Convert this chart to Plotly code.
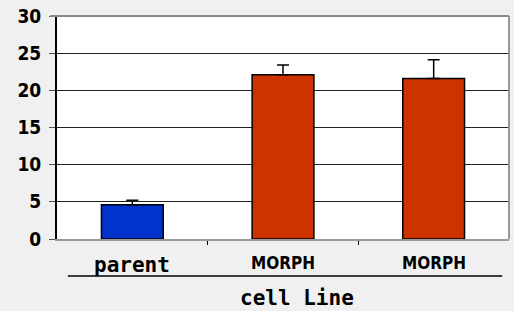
import plotly.graph_objects as go

categories = ["parent", "MORPH", "MORPH"]
values = [4.6, 22.1, 21.6]
errors = [0.6, 1.3, 2.5]
colors = ["#0033CC", "#CC3300", "#CC3300"]
y_ticks = [0, 5, 10, 15, 20, 25, 30]
x_title = "cell Line"

x_pos = list(range(len(categories)))
narrow = "DejaVu Sans Condensed, Liberation Sans"
label_fonts = [
    dict(family="DejaVu Sans Mono", size=21, color="black"),
    dict(family=narrow, size=17, color="black"),
    dict(family=narrow, size=17, color="black"),
]

fig = go.Figure()
fig.add_trace(go.Bar(
    x=x_pos, y=values,
    marker=dict(color=colors, line=dict(color="black", width=1.5)),
    width=0.41,
    error_y=dict(type="data", array=errors, symmetric=False, arrayminus=[0, 0, 0],
                 color="black", thickness=1.5, width=6),
))

for xp, lab, f in zip(x_pos, categories, label_fonts):
    fig.add_annotation(x=xp, y=-0.055, xref="x", yref="paper", text="<b>" + lab + "</b>",
                       showarrow=False, yanchor="top", font=f)

fig.add_annotation(x=0.53, y=-0.2, xref="paper", yref="paper", text="<b>" + x_title + "</b>",
                   showarrow=False, yanchor="top",
                   font=dict(family="DejaVu Sans Mono", size=21, color="black"))

fig.update_layout(
    width=514, height=311,
    margin=dict(l=57, r=5, t=10, b=72),
    paper_bgcolor="#F0F0F0", plot_bgcolor="white",
    showlegend=False,
    xaxis=dict(range=[-0.5, 2.5], tickvals=[], showticklabels=False,
               showline=True, linecolor="#999999", linewidth=2,
               minor=dict(tickvals=[0.5, 1.5], ticks="outside", ticklen=4, tickcolor="black", showgrid=False),
               showgrid=False, zeroline=False, mirror=False),
    yaxis=dict(range=[0, 30], tickvals=y_ticks, ticks="outside", ticklen=6, tickcolor="#555555",
               showline=True, linecolor="black", linewidth=2,
               showgrid=True, gridcolor="#222222", gridwidth=1, zeroline=False,
               tickfont=dict(family=narrow, size=19, color="black", weight="bold"),
               ticklabeloverflow="allow", ticklabelstandoff=4),
)
fig.add_shape(type="line", xref="paper", yref="paper", x0=1, x1=1, y0=0, y1=1,
              line=dict(color="#999999", width=2))
fig.add_shape(type="line", xref="paper", yref="paper", x0=-0.015, x1=1, y0=1, y1=1,
              line=dict(color="#888888", width=2))
fig.add_shape(type="line", xref="paper", yref="paper", x0=0.024, x1=0.985, y0=-0.166, y1=-0.166,
              line=dict(color="black", width=1.5))

fig.write_html("out.html", config={"displayModeBar": False},
               post_script="document.body.style.margin='0';document.body.style.overflow='hidden';")
